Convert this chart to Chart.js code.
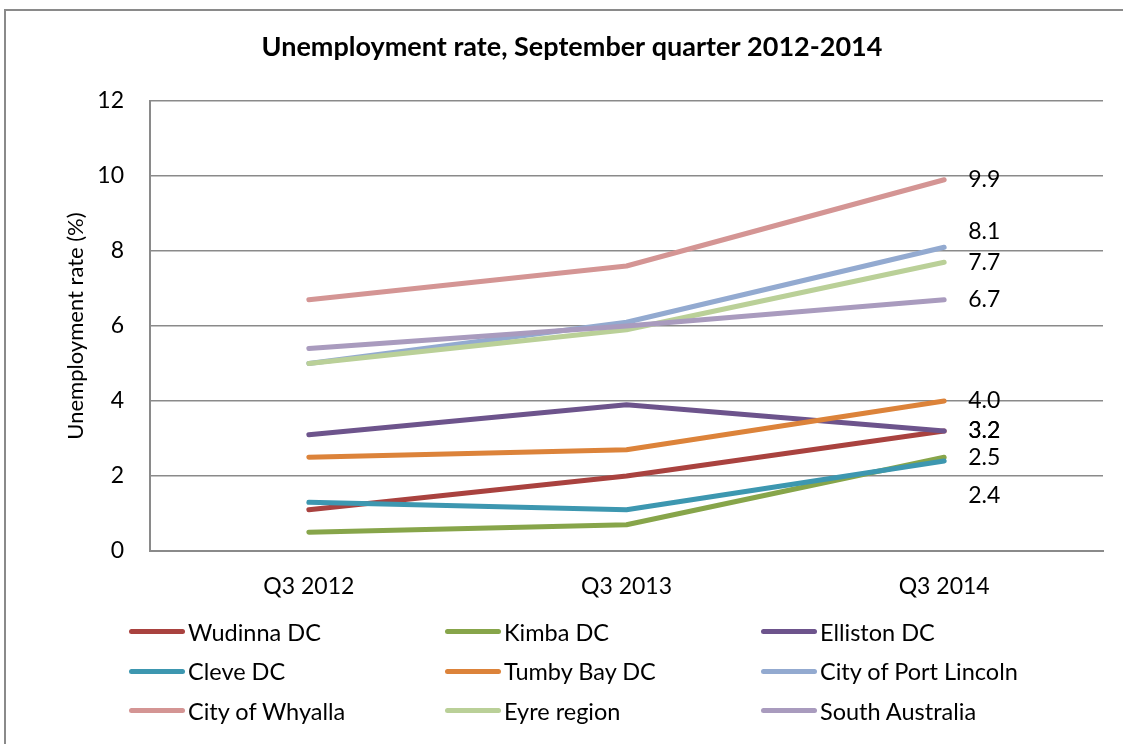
<!DOCTYPE html>
<html>
<head>
<meta charset="utf-8">
<script src="https://cdn.jsdelivr.net/npm/chart.js@4.4.1/dist/chart.umd.min.js"></script>
<style>
  html, body { margin: 0; padding: 0; background: #fff; }
  #wrap { position: relative; width: 1123px; height: 744px; overflow: hidden; }
  #frame {
    position: absolute; left: 4px; top: 9px; width: 1200px; height: 800px;
    border: 2px solid #8a8a8a; box-sizing: border-box; pointer-events: none;
  }
  #legend {
    position: absolute; left: 129px; top: 612px;
    display: grid; grid-template-columns: 316px 316px 316px; grid-auto-rows: 39.5px;
    font-family: Lato, sans-serif; font-size: 23.5px; color: #000;
  }
  .item { display: flex; align-items: center; }
  .swatch { width: 56px; height: 5px; border-radius: 3px; margin-right: 3px; }
</style>
</head>
<body>
<div id="wrap">
  <canvas id="chart" width="1123" height="744"></canvas>
  <div id="frame"></div>
  <div id="legend"></div>
</div>
<script>
const quarters = ['Q3 2012', 'Q3 2013', 'Q3 2014'];

const regions = [
  'Wudinna DC', 'Kimba DC', 'Elliston DC',
  'Cleve DC', 'Tumby Bay DC', 'City of Port Lincoln',
  'City of Whyalla', 'Eyre region', 'South Australia'
];

const wudinna = [1.1, 2.0, 3.2];
const kimba = [0.5, 0.7, 2.5];
const elliston = [3.1, 3.9, 3.2];
const cleve = [1.3, 1.1, 2.4];
const tumbyBay = [2.5, 2.7, 4.0];
const portLincoln = [5.0, 6.1, 8.1];
const whyalla = [6.7, 7.6, 9.9];
const eyre = [5.0, 5.9, 7.7];
const southAustralia = [5.4, 6.0, 6.7];

const yTicks = [0, 2, 4, 6, 8, 10, 12];

const series = [wudinna, kimba, elliston, cleve, tumbyBay, portLincoln, whyalla, eyre, southAustralia];
const colors = ['#A9423F', '#87A54A', '#6D548C', '#3D97B0', '#DC833A', '#93AAD0', '#D49594', '#BAD098', '#A99BBE'];

// end labels that would collide get nudged up or down (px)
const labelShift = { 'City of Port Lincoln': -16, 'Cleve DC': 35 };

const endLabels = {
  id: 'endLabels',
  afterDatasetsDraw(chart) {
    const ctx = chart.ctx;
    ctx.save();
    ctx.font = '23px Lato';
    ctx.fillStyle = '#000';
    ctx.textAlign = 'left';
    ctx.textBaseline = 'middle';
    chart.data.datasets.forEach((ds, i) => {
      const meta = chart.getDatasetMeta(i);
      const pt = meta.data[meta.data.length - 1];
      const v = ds.data[ds.data.length - 1];
      ctx.fillText(v.toFixed(1), pt.x + 24, pt.y + (labelShift[ds.label] || 0));
    });
    ctx.restore();
  }
};

const chartTitle = {
  id: 'chartTitle',
  afterDraw(chart) {
    const ctx = chart.ctx;
    ctx.save();
    ctx.font = 'bold 27px Lato';
    ctx.fillStyle = '#000';
    ctx.textAlign = 'center';
    ctx.textBaseline = 'middle';
    ctx.fillText('Unemployment rate, September quarter 2012-2014', 572, 47);
    ctx.restore();
  }
};

const chart = new Chart(document.getElementById('chart'), {
  type: 'line',
  data: {
    labels: quarters,
    datasets: regions.map((name, i) => ({
      label: name,
      data: series[i],
      borderColor: colors[i],
      backgroundColor: colors[i],
      borderWidth: 5,
      borderCapStyle: 'round',
      borderJoinStyle: 'round',
      pointRadius: 0,
      tension: 0,
      order: -i
    }))
  },
  options: {
    responsive: false,
    animation: false,
    layout: { padding: { left: 20, top: 101, right: 20, bottom: 143 } },
    plugins: {
      legend: { display: false },
      tooltip: { enabled: false }
    },
    scales: {
      x: {
        offset: true,
        grid: { display: false },
        border: { display: true, color: '#8a8a8a', width: 2 },
        ticks: { font: { family: 'Lato', size: 23 }, color: '#000', padding: 14 },
        afterFit(scale) { scale.height = 50; }
      },
      y: {
        min: 0,
        max: 12,
        afterBuildTicks(scale) { scale.ticks = yTicks.map(v => ({ value: v })); },
        grid: { color: '#8a8a8a', lineWidth: 1.5, drawTicks: false },
        border: { display: true, color: '#8a8a8a', width: 2 },
        ticks: { font: { family: 'Lato', size: 23 }, color: '#000', padding: 26 },
        title: {
          display: true,
          text: 'Unemployment rate (%)',
          font: { family: 'Lato', size: 22 },
          color: '#000',
          padding: { top: 43, bottom: 0 }
        },
        afterFit(scale) { scale.width = 130; }
      }
    }
  },
  plugins: [endLabels, chartTitle]
});

// three-column legend under the plot
const legendEl = document.getElementById('legend');
chart.data.datasets.forEach(ds => {
  const item = document.createElement('div');
  item.className = 'item';
  const sw = document.createElement('span');
  sw.className = 'swatch';
  sw.style.background = ds.borderColor;
  const txt = document.createElement('span');
  txt.textContent = ds.label;
  item.appendChild(sw);
  item.appendChild(txt);
  legendEl.appendChild(item);
});
</script>
</body>
</html>
